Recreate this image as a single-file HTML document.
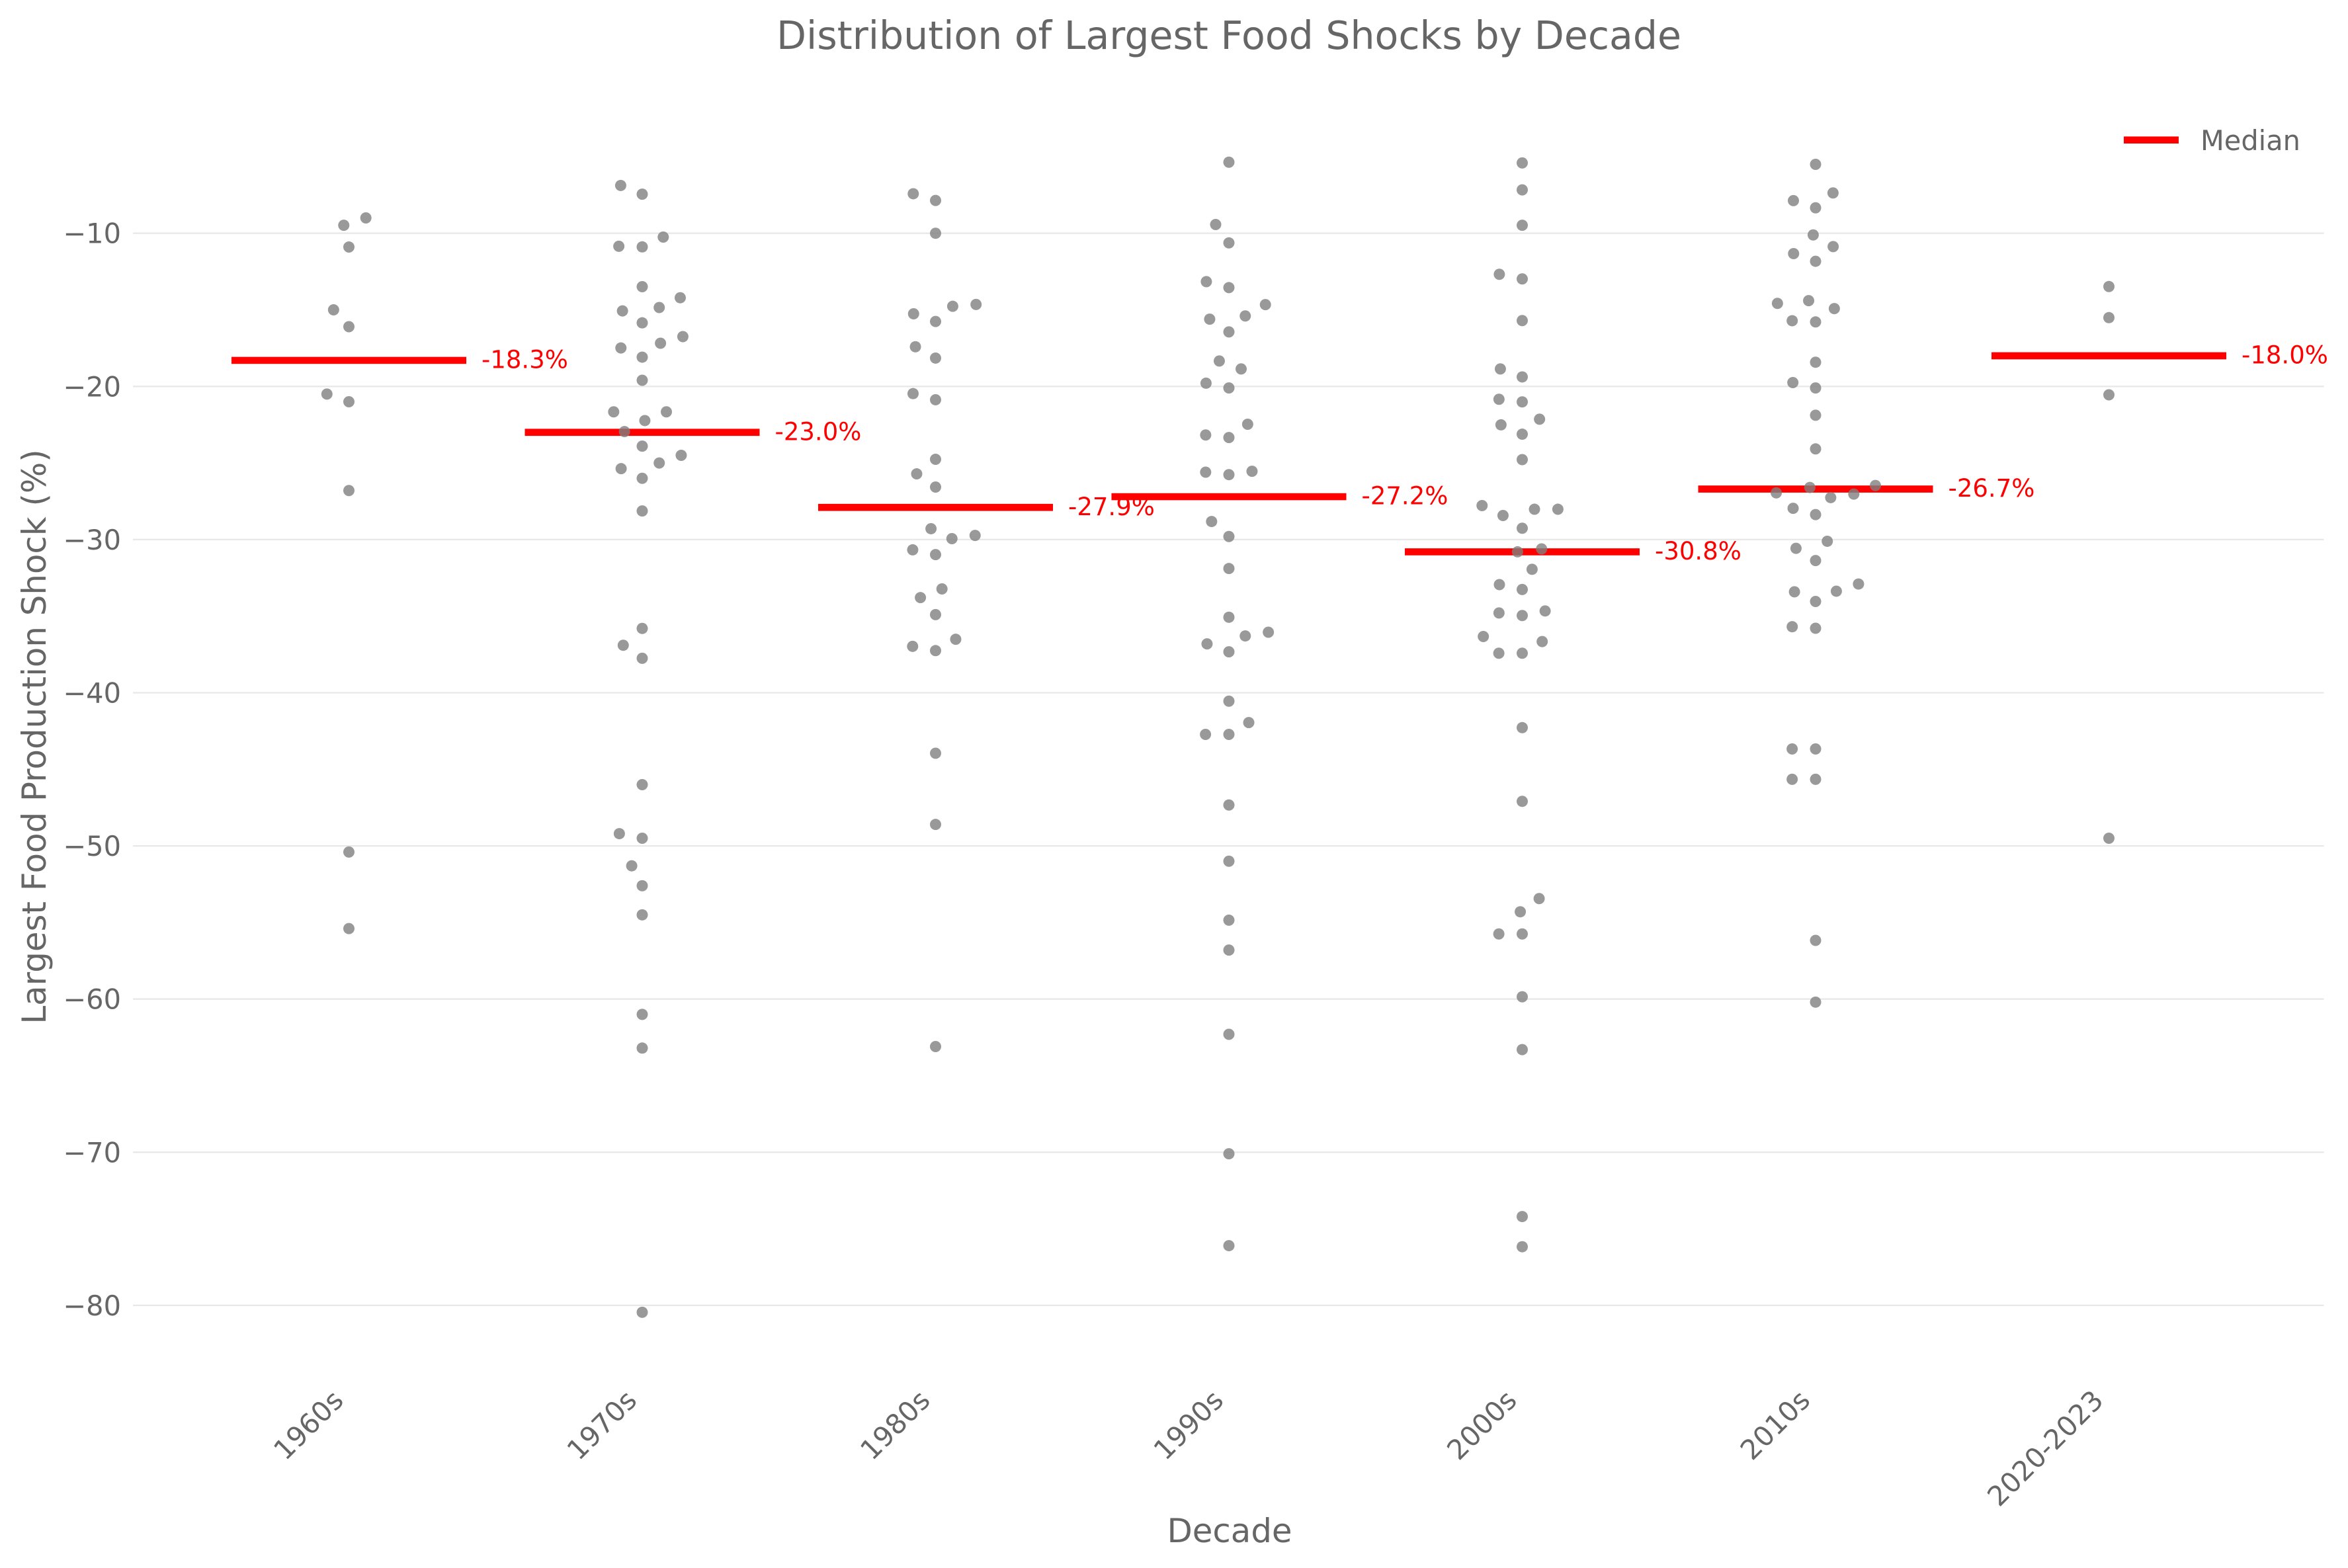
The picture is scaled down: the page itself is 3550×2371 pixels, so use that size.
<!DOCTYPE html>
<html lang="en">
<head>
<meta charset="utf-8">
<title>Distribution of Largest Food Shocks by Decade</title>
<style>
html,body{margin:0;padding:0;background:#fff;width:3550px;height:2371px;overflow:hidden}
svg{display:block}
text{font-family:"DejaVu Sans","Liberation Sans",sans-serif}
</style>
</head>
<body>
<svg id="chart" xmlns="http://www.w3.org/2000/svg" width="3550" height="2371" viewBox="0 0 3550 2371">
  <rect x="0" y="0" width="3550" height="2371" fill="#ffffff"/>
  <g id="grid"></g>
  <g id="yticks"></g>
  <g id="xticks"></g>
  <g id="medians"></g>
  <g id="points"></g>
  <text x="1858" y="74" text-anchor="middle" font-size="58.5" fill="#666666">Distribution of Largest Food Shocks by Decade</text>
  <text x="1859" y="2332" text-anchor="middle" font-size="49.8" fill="#666666">Decade</text>
  <text x="0" y="0" text-anchor="middle" font-size="49.8" fill="#666666" transform="translate(69,1114) rotate(-90)">Largest Food Production Shock (%)</text>
  <g>
    <line x1="3211" y1="211.7" x2="3294" y2="211.7" stroke="#ff0000" stroke-width="10.7"/>
    <text x="3327" y="227" font-size="41.5" fill="#666666">Median</text>
  </g>
</svg>
<script>
const categories = ["1960s","1970s","1980s","1990s","2000s","2010s","2020-2023"];
const yTickValues = [-10,-20,-30,-40,-50,-60,-70,-80];
const medians = [-18.3,-23.0,-27.9,-27.2,-30.8,-26.7,-18.0];
const shocks1960s = [-9.0,-9.48,-10.9,-15.0,-16.1,-20.5,-21.0,-26.8,-50.4,-55.4];
const shocks1970s = [-6.88,-7.45,-10.25,-10.85,-10.89,-13.49,-14.21,-14.85,-15.07,-15.85,-16.75,-17.18,-17.49,-18.09,-19.6,-21.66,-21.66,-22.23,-22.95,-23.9,-24.5,-25.0,-25.37,-26.0,-28.13,-35.8,-36.9,-37.75,-46.0,-49.2,-49.5,-51.3,-52.6,-54.5,-61.0,-63.2,-80.45];
const shocks1980s = [-7.42,-7.86,-10.0,-14.65,-14.77,-15.26,-15.76,-17.41,-18.15,-20.47,-20.87,-24.76,-25.71,-26.57,-29.29,-29.73,-29.94,-30.67,-30.98,-33.22,-33.79,-34.9,-36.51,-36.97,-37.25,-43.95,-48.6,-63.1];
const shocks1990s = [-5.36,-9.43,-10.63,-13.16,-13.55,-14.66,-15.40,-15.61,-16.44,-18.34,-18.86,-19.79,-20.10,-22.47,-23.17,-23.34,-25.54,-25.6,-25.76,-28.82,-29.80,-31.89,-35.07,-36.05,-36.29,-36.81,-37.33,-40.55,-41.95,-42.72,-42.72,-47.33,-51.0,-54.85,-56.8,-62.3,-70.1,-76.1];
const shocks2000s = [-5.41,-7.17,-9.48,-12.68,-12.98,-15.70,-18.86,-19.38,-20.84,-21.01,-22.14,-22.51,-23.12,-24.78,-27.78,-28.02,-28.02,-28.43,-29.26,-30.61,-30.8,-31.94,-32.94,-33.26,-34.66,-34.79,-34.96,-36.33,-36.66,-37.42,-37.42,-42.28,-47.09,-53.44,-54.3,-55.75,-55.75,-59.85,-63.3,-74.2,-76.17];
const shocks2010s = [-5.5,-7.37,-7.87,-8.34,-10.11,-10.87,-11.33,-11.83,-14.40,-14.58,-14.92,-15.71,-15.79,-18.42,-19.75,-20.10,-21.88,-24.08,-26.47,-26.60,-26.95,-27.03,-27.26,-27.96,-28.37,-30.11,-30.57,-31.37,-32.9,-33.37,-33.41,-34.04,-35.69,-35.79,-43.67,-43.67,-45.65,-45.65,-56.17,-60.2];
const shocks2020s = [-13.48,-15.51,-20.55,-49.5];
const decadeSeries = [shocks1960s,shocks1970s,shocks1980s,shocks1990s,shocks2000s,shocks2010s,shocks2020s];

const SVGNS = "http://www.w3.org/2000/svg";
const DOT_RADIUS = 8.5;
const SWARM_DISTANCE = 33.7;
const MEDIAN_HALF_WIDTH = 177.5;
const GRID_LEFT = 201;
const GRID_RIGHT = 3513.5;

function xScale(index){ return 527.5 + 443.5 * index; }
function yScale(value){ return 352.7 + (-10 - value) * 23.16; }

function make(tag, attrs){
  const el = document.createElementNS(SVGNS, tag);
  for (const key in attrs) el.setAttribute(key, attrs[key]);
  return el;
}

/* Beeswarm: each point takes the closest-to-centre slot that does not collide */
function beeswarm(values, midline){
  const sorted = values.slice().sort(function(a,b){ return a - b; });
  const swarm = [];
  sorted.forEach(function(value){
    const py = yScale(value);
    const neighbors = [];
    for (let j = swarm.length - 1; j >= 0; j--) {
      if (Math.abs(py - swarm[j].y) < SWARM_DISTANCE) neighbors.unshift(swarm[j]);
      else break;
    }
    const candidates = [midline];
    let leftFirst = true;
    neighbors.forEach(function(n){
      const dy = py - n.y;
      const dx = Math.sqrt(Math.max(SWARM_DISTANCE * SWARM_DISTANCE - dy * dy, 0)) * 1.05;
      if (leftFirst) candidates.push(n.x - dx, n.x + dx);
      else candidates.push(n.x + dx, n.x - dx);
      leftFirst = !leftFirst;
    });
    const ordered = candidates
      .map(function(x,i){ return {x:x,i:i}; })
      .sort(function(a,b){
        const diff = Math.abs(a.x - midline) - Math.abs(b.x - midline);
        return Math.abs(diff) > 1e-6 ? diff : a.i - b.i;
      });
    let chosen = ordered[0].x;
    for (let c = 0; c < ordered.length; c++) {
      const ok = neighbors.every(function(n){
        const ddx = ordered[c].x - n.x, ddy = py - n.y;
        return ddx * ddx + ddy * ddy >= SWARM_DISTANCE * SWARM_DISTANCE - 1e-6;
      });
      if (ok) { chosen = ordered[c].x; break; }
    }
    swarm.push({x:chosen, y:py, value:value});
  });
  return swarm;
}

const gridGroup = document.getElementById("grid");
const yTickGroup = document.getElementById("yticks");
yTickValues.forEach(function(tick){
  const line = make("line", {x1:GRID_LEFT, x2:GRID_RIGHT, y1:yScale(tick), y2:yScale(tick), stroke:"#e8e8e8", "stroke-width":2.3});
  
  
  gridGroup.appendChild(line);
  const label = make("text", {x:183, y:yScale(tick) + 15, "text-anchor":"end", "font-size":41.5, fill:"#666666"});
  
  
  label.textContent = "\u2212" + Math.abs(tick);
  yTickGroup.appendChild(label);
});

const xTickGroup = document.getElementById("xticks");
categories.forEach(function(cat, i){
  const ax = xScale(i) - 6, ay = 2120;
  const label = make("text", {x:0, y:0, "text-anchor":"end", "font-size":41.5, fill:"#666666", transform:"translate(" + ax + "," + ay + ") rotate(-45)"});
  
  
  label.textContent = cat;
  xTickGroup.appendChild(label);
});

const medianGroup = document.getElementById("medians");
medians.forEach(function(med, i){
  const cx = xScale(i), my = yScale(med);
  const line = make("line", {x1:cx - MEDIAN_HALF_WIDTH, x2:cx + MEDIAN_HALF_WIDTH, y1:my, y2:my, stroke:"#ff0000", "stroke-width":10.7});
  
  
  medianGroup.appendChild(line);
  const label = make("text", {x:cx + MEDIAN_HALF_WIDTH + 23, y:my + 11.5, "font-size":37, fill:"#ff0000"});
  
  
  label.textContent = med.toFixed(1) + "%";
  medianGroup.appendChild(label);
});

const pointGroup = document.getElementById("points");
decadeSeries.forEach(function(series, i){
  beeswarm(series, xScale(i)).forEach(function(p){
    const dot = make("circle", {cx:p.x, cy:p.y, r:DOT_RADIUS, fill:"#808080", "fill-opacity":0.8});
    
    
    pointGroup.appendChild(dot);
  });
});
</script>
</body>
</html>
